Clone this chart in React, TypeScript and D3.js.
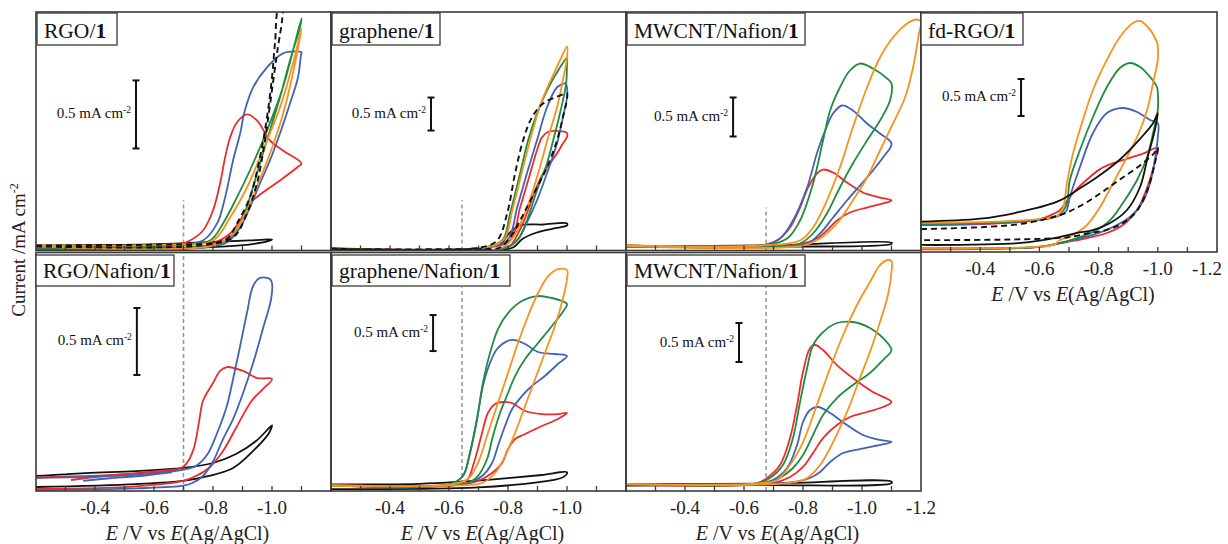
import React from "react";
import * as d3 from "d3";

type P = [number, number];

// ---------- RGO/1 ----------
const rgo1Black: P[] = [[-0.2,0.037],[-0.586,0.044],[-0.756,0.059],[-0.925,0.074],[-1.0,0.081],[-0.99,0.07],[-0.892,0.037],[-0.756,0.022],[-0.417,0.012],[-0.2,0.012]];
const rgo1Dashed: P[] = [[-0.2,0.037],[-0.654,0.044],[-0.8,0.055],[-0.85,0.09],[-0.881,0.199],[-0.925,0.39],[-0.959,0.684],[-0.983,0.978],[-1.0,1.272],[-1.01,1.522],[-1.024,1.8],[-1.037,1.8],[-1.034,1.69],[-1.02,1.493],[-1.003,1.228],[-0.986,0.956],[-0.969,0.713],[-0.949,0.493],[-0.915,0.272],[-0.868,0.096],[-0.756,0.037],[-0.2,0.03]];
const rgo1Red: P[] = [[-0.2,0.022],[-0.654,0.03],[-0.722,0.074],[-0.766,0.147],[-0.8,0.294],[-0.824,0.493],[-0.841,0.684],[-0.858,0.831],[-0.881,0.941],[-0.915,1.0],[-0.949,0.956],[-0.993,0.809],[-1.037,0.735],[-1.1,0.64],[-1.085,0.61],[-1.027,0.515],[-0.969,0.426],[-0.925,0.346],[-0.898,0.243],[-0.858,0.125],[-0.8,0.051],[-0.746,0.022],[-0.417,0.012],[-0.2,0.012]];
const rgo1Blue: P[] = [[-0.2,0.03],[-0.654,0.037],[-0.766,0.074],[-0.814,0.199],[-0.841,0.39],[-0.868,0.662],[-0.892,0.86],[-0.908,1.029],[-0.936,1.199],[-0.983,1.346],[-1.037,1.449],[-1.085,1.463],[-1.1,1.456],[-1.098,1.434],[-1.088,1.272],[-1.061,1.081],[-1.027,0.86],[-0.993,0.662],[-0.959,0.493],[-0.925,0.316],[-0.892,0.169],[-0.847,0.059],[-0.766,0.022],[-0.2,0.015]];
const rgo1Green: P[] = [[-0.2,0.03],[-0.654,0.037],[-0.79,0.074],[-0.834,0.199],[-0.881,0.39],[-0.925,0.588],[-0.983,0.882],[-1.037,1.199],[-1.1,1.706],[-1.095,1.64],[-1.061,1.397],[-1.027,1.125],[-0.993,0.882],[-0.959,0.64],[-0.925,0.39],[-0.892,0.199],[-0.847,0.074],[-0.756,0.03],[-0.2,0.022]];
const rgo1Orange: P[] = [[-0.2,0.037],[-0.654,0.044],[-0.8,0.074],[-0.858,0.243],[-0.915,0.463],[-0.969,0.735],[-1.027,1.051],[-1.071,1.375],[-1.1,1.632],[-1.095,1.566],[-1.068,1.272],[-1.034,0.978],[-0.993,0.713],[-0.953,0.493],[-0.915,0.294],[-0.868,0.125],[-0.8,0.037],[-0.2,0.03]];

// ---------- graphene/1 ----------
const gr1Black: P[] = [[-0.2,0.03],[-0.7,0.035],[-0.773,0.106],[-0.807,0.273],[-0.841,0.379],[-0.919,0.394],[-1.0,0.41],[-1.0,0.38],[-0.953,0.333],[-0.898,0.273],[-0.851,0.182],[-0.817,0.045],[-0.773,0.015],[-0.2,0.015]];
const gr1Dashed: P[] = [[-0.2,0.03],[-0.7,0.04],[-0.763,0.152],[-0.797,0.561],[-0.824,1.167],[-0.851,1.667],[-0.881,2.015],[-0.919,2.227],[-0.976,2.348],[-1.0,2.38],[-1.0,2.3],[-0.986,2.015],[-0.966,1.667],[-0.932,1.258],[-0.898,0.955],[-0.864,0.652],[-0.841,0.455],[-0.807,0.197],[-0.773,0.045],[-0.7,0.025],[-0.2,0.02]];
const gr1Red: P[] = [[-0.2,0.03],[-0.7,0.035],[-0.807,0.152],[-0.841,0.652],[-0.875,1.167],[-0.898,1.515],[-0.915,1.712],[-0.936,1.8],[-0.99,1.8],[-1.0,1.78],[-1.0,1.72],[-0.986,1.621],[-0.966,1.47],[-0.942,1.318],[-0.919,1.167],[-0.892,0.909],[-0.864,0.561],[-0.834,0.258],[-0.797,0.045],[-0.2,0.02]];
const gr1Blue: P[] = [[-0.2,0.03],[-0.7,0.035],[-0.797,0.152],[-0.831,0.652],[-0.864,1.167],[-0.898,1.667],[-0.932,2.167],[-0.966,2.47],[-0.995,2.53],[-1.0,2.47],[-1.0,2.318],[-0.986,2.015],[-0.966,1.621],[-0.932,1.167],[-0.898,0.758],[-0.864,0.424],[-0.831,0.152],[-0.783,0.03],[-0.2,0.02]];
const gr1Green: P[] = [[-0.2,0.03],[-0.7,0.035],[-0.78,0.152],[-0.807,0.561],[-0.841,1.167],[-0.868,1.667],[-0.898,2.076],[-0.932,2.424],[-0.976,2.773],[-1.0,2.92],[-1.0,2.85],[-0.997,2.53],[-0.976,2.076],[-0.953,1.667],[-0.932,1.318],[-0.898,0.909],[-0.864,0.455],[-0.831,0.152],[-0.783,0.03],[-0.2,0.02]];
const gr1Orange: P[] = [[-0.2,0.03],[-0.7,0.035],[-0.783,0.152],[-0.817,0.652],[-0.851,1.258],[-0.881,1.773],[-0.915,2.273],[-0.949,2.621],[-0.976,2.879],[-1.0,3.09],[-1.0,2.92],[-0.986,2.576],[-0.966,2.167],[-0.936,1.712],[-0.908,1.258],[-0.881,0.864],[-0.851,0.5],[-0.817,0.197],[-0.773,0.03],[-0.2,0.02]];

// ---------- MWCNT/Nafion/1 (top) ----------
const mw1Black: P[] = [[-0.2,0.06],[-0.68,0.065],[-1.1,0.1],[-1.1,0.085],[-0.68,0.05],[-0.2,0.05]];
const mw1Red: P[] = [[-0.2,0.064],[-0.66,0.064],[-0.712,0.128],[-0.756,0.295],[-0.79,0.551],[-0.817,0.808],[-0.847,0.987],[-0.868,1.038],[-0.902,1.0],[-0.949,0.872],[-1.003,0.744],[-1.061,0.679],[-1.1,0.641],[-1.071,0.603],[-1.017,0.551],[-0.959,0.487],[-0.915,0.385],[-0.881,0.256],[-0.847,0.154],[-0.8,0.09],[-0.746,0.064],[-0.2,0.055]];
const mw1Blue: P[] = [[-0.2,0.064],[-0.66,0.064],[-0.722,0.154],[-0.766,0.385],[-0.814,0.808],[-0.847,1.244],[-0.875,1.538],[-0.902,1.756],[-0.932,1.859],[-0.969,1.795],[-1.017,1.628],[-1.061,1.5],[-1.1,1.372],[-1.071,1.192],[-1.037,1.026],[-0.993,0.833],[-0.949,0.641],[-0.902,0.423],[-0.858,0.218],[-0.814,0.09],[-0.756,0.064],[-0.2,0.055]];
const mw1Green: P[] = [[-0.2,0.064],[-0.66,0.064],[-0.746,0.154],[-0.79,0.385],[-0.834,0.859],[-0.868,1.41],[-0.892,1.795],[-0.925,2.09],[-0.959,2.308],[-0.993,2.397],[-1.037,2.333],[-1.085,2.205],[-1.1,2.141],[-1.095,1.923],[-1.061,1.667],[-1.017,1.41],[-0.969,1.115],[-0.925,0.808],[-0.881,0.474],[-0.834,0.218],[-0.79,0.09],[-0.746,0.055],[-0.2,0.05]];
const mw1Orange: P[] = [[-0.2,0.064],[-0.66,0.064],[-0.79,0.128],[-0.834,0.295],[-0.881,0.641],[-0.925,1.064],[-0.969,1.577],[-1.017,2.09],[-1.061,2.474],[-1.105,2.731],[-1.153,2.91],[-1.186,2.962],[-1.2,2.936],[-1.193,2.782],[-1.173,2.346],[-1.146,1.962],[-1.105,1.628],[-1.061,1.282],[-1.017,0.936],[-0.969,0.641],[-0.915,0.346],[-0.858,0.154],[-0.8,0.064],[-0.2,0.055]];

// ---------- fd-RGO/1 ----------
const fdBlack: P[] = [[-0.2,0.41],[-0.4,0.45],[-0.52,0.53],[-0.66,0.68],[-0.737,0.86],[-0.805,1.04],[-0.872,1.25],[-0.94,1.53],[-0.984,1.74],[-1.0,1.878],[-0.99,1.649],[-0.966,1.284],[-0.94,0.878],[-0.896,0.568],[-0.839,0.392],[-0.781,0.297],[-0.727,0.257],[-0.67,0.203],[-0.538,0.122],[-0.2,0.095]];
const fdDashed: P[] = [[-0.2,0.31],[-0.52,0.37],[-0.67,0.5],[-0.737,0.62],[-0.805,0.79],[-0.872,0.98],[-0.94,1.17],[-0.984,1.32],[-1.0,1.405],[-0.99,1.2],[-0.966,0.85],[-0.93,0.56],[-0.882,0.39],[-0.828,0.3],[-0.761,0.25],[-0.697,0.2],[-0.52,0.17],[-0.2,0.16]];
const fdRed: P[] = [[-0.2,0.365],[-0.45,0.385],[-0.6,0.44],[-0.65,0.52],[-0.67,0.57],[-0.714,0.8],[-0.761,0.98],[-0.805,1.12],[-0.849,1.2],[-0.896,1.26],[-0.95,1.33],[-1.0,1.41],[-0.997,1.338],[-0.98,1.068],[-0.957,0.797],[-0.93,0.568],[-0.882,0.365],[-0.828,0.257],[-0.761,0.189],[-0.693,0.135],[-0.6,0.07],[-0.2,0.035]];
const fdBlue: P[] = [[-0.2,0.37],[-0.45,0.39],[-0.6,0.43],[-0.66,0.48],[-0.69,0.55],[-0.703,0.743],[-0.737,1.149],[-0.781,1.608],[-0.828,1.878],[-0.882,1.946],[-0.93,1.892],[-0.974,1.784],[-1.0,1.743],[-1.0,1.554],[-0.99,1.243],[-0.974,0.932],[-0.947,0.662],[-0.906,0.473],[-0.849,0.338],[-0.781,0.23],[-0.714,0.162],[-0.67,0.122],[-0.6,0.07],[-0.2,0.045]];
const fdGreen: P[] = [[-0.2,0.38],[-0.45,0.4],[-0.6,0.44],[-0.66,0.49],[-0.69,0.62],[-0.703,0.973],[-0.737,1.378],[-0.781,1.824],[-0.828,2.23],[-0.872,2.486],[-0.906,2.554],[-0.94,2.5],[-0.974,2.365],[-0.997,2.23],[-1.0,2.149],[-1.0,1.919],[-0.984,1.608],[-0.964,1.284],[-0.93,0.973],[-0.882,0.662],[-0.839,0.432],[-0.781,0.27],[-0.727,0.189],[-0.67,0.122],[-0.6,0.07],[-0.2,0.05]];
const fdOrange: P[] = [[-0.2,0.392],[-0.45,0.41],[-0.6,0.445],[-0.66,0.49],[-0.68,0.6],[-0.693,0.93],[-0.714,1.338],[-0.747,1.784],[-0.781,2.189],[-0.828,2.595],[-0.872,2.905],[-0.916,3.095],[-0.939,3.122],[-0.966,3.041],[-0.997,2.838],[-1.0,2.77],[-1.0,2.595],[-0.984,2.284],[-0.964,1.919],[-0.93,1.554],[-0.896,1.284],[-0.849,0.932],[-0.805,0.608],[-0.761,0.365],[-0.714,0.23],[-0.67,0.162],[-0.649,0.1],[-0.538,0.06],[-0.2,0.045]];

// ---------- RGO/Nafion/1 ----------
const rgoNBlack: P[] = [[-0.2,0.112],[-0.369,0.134],[-0.539,0.149],[-0.698,0.172],[-0.8,0.209],[-0.878,0.276],[-0.946,0.373],[-0.99,0.47],[-1.0,0.49],[-0.99,0.433],[-0.936,0.299],[-0.868,0.172],[-0.786,0.112],[-0.698,0.075],[-0.539,0.052],[-0.2,0.03]];
const rgoNRed: P[] = [[-0.2,0.104],[-0.54,0.13],[-0.698,0.18],[-0.732,0.299],[-0.753,0.522],[-0.766,0.672],[-0.8,0.806],[-0.824,0.896],[-0.847,0.925],[-0.902,0.896],[-0.949,0.843],[-1.0,0.836],[-0.969,0.761],[-0.93,0.67],[-0.878,0.47],[-0.834,0.299],[-0.786,0.172],[-0.742,0.112],[-0.698,0.075],[-0.54,0.035],[-0.2,0.015]];
const rgoNRedTail: P[] = [[-0.319,0.082],[-0.427,0.112],[-0.539,0.134],[-0.685,0.164]];
const rgoNBlue: P[] = [[-0.2,0.097],[-0.54,0.12],[-0.7,0.16],[-0.742,0.187],[-0.78,0.27],[-0.814,0.433],[-0.847,0.634],[-0.868,0.836],[-0.892,1.082],[-0.915,1.328],[-0.936,1.53],[-0.959,1.59],[-0.993,1.582],[-1.0,1.55],[-0.997,1.433],[-0.969,1.209],[-0.936,0.955],[-0.902,0.731],[-0.868,0.537],[-0.834,0.388],[-0.8,0.22],[-0.766,0.112],[-0.73,0.06],[-0.7,0.04],[-0.54,0.02],[-0.2,0.008]];
const rgoNBlueTail: P[] = [[-0.36,0.075],[-0.45,0.095],[-0.54,0.11],[-0.66,0.14]];

// ---------- graphene/Nafion/1 ----------
const grNBlack: P[] = [[-0.2,0.09],[-0.5,0.1],[-0.64,0.13],[-0.8,0.18],[-0.915,0.222],[-1.0,0.26],[-0.99,0.2],[-0.95,0.15],[-0.858,0.1],[-0.7,0.05],[-0.5,0.03],[-0.2,0.025]];
const grNRed: P[] = [[-0.2,0.08],[-0.6,0.09],[-0.66,0.15],[-0.685,0.4],[-0.712,0.806],[-0.732,1.083],[-0.756,1.208],[-0.78,1.236],[-0.814,1.222],[-0.858,1.111],[-0.915,1.069],[-0.969,1.069],[-1.0,1.083],[-0.969,1.0],[-0.915,0.903],[-0.858,0.792],[-0.824,0.722],[-0.8,0.583],[-0.78,0.389],[-0.746,0.25],[-0.698,0.139],[-0.654,0.097],[-0.6,0.075],[-0.2,0.07]];
const grNBlue: P[] = [[-0.2,0.08],[-0.6,0.09],[-0.647,0.208],[-0.671,0.528],[-0.695,1.0],[-0.715,1.458],[-0.739,1.778],[-0.763,1.972],[-0.797,2.083],[-0.824,2.097],[-0.858,2.042],[-0.902,1.931],[-0.959,1.903],[-1.0,1.875],[-0.969,1.764],[-0.925,1.597],[-0.881,1.458],[-0.847,1.319],[-0.814,1.139],[-0.79,0.903],[-0.766,0.625],[-0.746,0.389],[-0.712,0.208],[-0.664,0.111],[-0.6,0.075],[-0.2,0.07]];
const grNGreen: P[] = [[-0.2,0.08],[-0.6,0.09],[-0.647,0.208],[-0.671,0.528],[-0.695,1.0],[-0.715,1.5],[-0.739,1.917],[-0.766,2.25],[-0.8,2.472],[-0.847,2.639],[-0.902,2.708],[-0.949,2.681],[-0.983,2.639],[-1.0,2.597],[-0.983,2.472],[-0.949,2.292],[-0.902,2.056],[-0.858,1.833],[-0.824,1.597],[-0.8,1.361],[-0.773,1.083],[-0.749,0.764],[-0.729,0.444],[-0.698,0.208],[-0.664,0.111],[-0.6,0.075],[-0.2,0.07]];
const grNOrange: P[] = [[-0.2,0.08],[-0.6,0.09],[-0.664,0.167],[-0.698,0.389],[-0.732,0.806],[-0.766,1.222],[-0.8,1.639],[-0.834,2.056],[-0.868,2.431],[-0.902,2.75],[-0.936,2.986],[-0.969,3.083],[-1.0,3.07],[-1.0,2.944],[-0.986,2.667],[-0.959,2.292],[-0.925,1.917],[-0.892,1.556],[-0.858,1.181],[-0.824,0.806],[-0.79,0.486],[-0.756,0.25],[-0.712,0.111],[-0.6,0.075],[-0.2,0.07]];

// ---------- MWCNT/Nafion/1 (bottom) ----------
const mwNBlack: P[] = [[-0.2,0.09],[-0.68,0.095],[-1.1,0.12],[-1.1,0.1],[-0.68,0.075],[-0.2,0.07]];
const mwNRed: P[] = [[-0.2,0.09],[-0.64,0.095],[-0.678,0.167],[-0.722,0.333],[-0.756,0.679],[-0.78,1.103],[-0.8,1.526],[-0.824,1.833],[-0.841,1.872],[-0.868,1.808],[-0.915,1.615],[-0.969,1.449],[-1.037,1.269],[-1.1,1.141],[-1.071,1.077],[-1.017,1.013],[-0.959,0.949],[-0.915,0.846],[-0.868,0.679],[-0.834,0.487],[-0.8,0.308],[-0.756,0.179],[-0.712,0.115],[-0.64,0.09],[-0.2,0.085]];
const mwNBlue: P[] = [[-0.2,0.09],[-0.64,0.095],[-0.698,0.141],[-0.746,0.295],[-0.78,0.59],[-0.8,0.885],[-0.824,1.038],[-0.851,1.077],[-0.892,1.0],[-0.949,0.846],[-1.003,0.718],[-1.061,0.654],[-1.1,0.628],[-1.061,0.59],[-0.993,0.538],[-0.936,0.487],[-0.892,0.372],[-0.858,0.244],[-0.824,0.167],[-0.766,0.115],[-0.2,0.085]];
const mwNGreen: P[] = [[-0.2,0.09],[-0.64,0.095],[-0.688,0.167],[-0.732,0.333],[-0.766,0.679],[-0.79,1.141],[-0.814,1.577],[-0.834,1.872],[-0.868,2.038],[-0.915,2.154],[-0.969,2.167],[-1.027,2.09],[-1.071,1.962],[-1.1,1.808],[-1.071,1.679],[-1.027,1.513],[-0.969,1.359],[-0.915,1.192],[-0.868,0.974],[-0.834,0.718],[-0.8,0.462],[-0.766,0.295],[-0.722,0.167],[-0.678,0.103],[-0.2,0.085]];
const mwNOrange: P[] = [[-0.2,0.09],[-0.64,0.095],[-0.712,0.141],[-0.756,0.333],[-0.8,0.628],[-0.847,1.103],[-0.892,1.577],[-0.936,2.0],[-0.983,2.385],[-1.027,2.679],[-1.061,2.897],[-1.088,2.962],[-1.1,2.949],[-1.1,2.808],[-1.088,2.513],[-1.061,2.167],[-1.027,1.782],[-0.993,1.449],[-0.959,1.103],[-0.925,0.808],[-0.892,0.551],[-0.858,0.333],[-0.814,0.167],[-0.756,0.103],[-0.2,0.085]];

const tickLabels4 = [-0.4, -0.6, -0.8, -1.0];
const tickLabels5 = [-0.4, -0.6, -0.8, -1.0, -1.2];
const minorTicks = [-0.3, -0.4, -0.5, -0.6, -0.7, -0.8, -0.9, -1.0, -1.1];

const RED = "#ee2b2b";
const BLUE = "#4262b4";
const GREEN = "#1f8c3f";
const ORANGE = "#f7921e";
const BLACK = "#111";

type Curve = { d: P[]; c: string; dash?: boolean };
type Panel = {
  key: string; name: string; x0: number; x1: number; yTop: number; yBot: number;
  iMax: number; bar: [number, number]; barE: number; refE?: number; refTop?: number;
  boxW: number; boxX: number; ticks: number[]; title: boolean; curves: Curve[];
};

const FONT = "'Liberation Serif','Times New Roman',serif";

const panels: Panel[] = [
  { key: "p1", name: "RGO/", x0: 36, x1: 331, yTop: 12, yBot: 250.5, iMax: 1.753, bar: [0.75, 1.25], barE: -0.539, refE: -0.7, refTop: 0.37, boxW: 80, boxX: 1, ticks: [], title: false,
    curves: [{ d: rgo1Black, c: BLACK }, { d: rgo1Red, c: RED }, { d: rgo1Blue, c: BLUE }, { d: rgo1Green, c: GREEN }, { d: rgo1Orange, c: ORANGE }, { d: rgo1Dashed, c: BLACK, dash: true }] },
  { key: "p2", name: "graphene/", x0: 331, x1: 626, yTop: 12, yBot: 250.5, iMax: 3.614, bar: [1.818, 2.318], barE: -0.539, refE: -0.644, refTop: 0.76, boxW: 108, boxX: 1, ticks: [], title: false,
    curves: [{ d: gr1Black, c: BLACK }, { d: gr1Red, c: RED }, { d: gr1Blue, c: BLUE }, { d: gr1Green, c: GREEN }, { d: gr1Orange, c: ORANGE }, { d: gr1Dashed, c: BLACK, dash: true }] },
  { key: "p3", name: "MWCNT/Nafion/", x0: 626, x1: 921, yTop: 12, yBot: 250.5, iMax: 3.058, bar: [1.462, 1.962], barE: -0.563, refE: -0.675, refTop: 0.55, boxW: 178, boxX: 1, ticks: [], title: false,
    curves: [{ d: mw1Black, c: BLACK }, { d: mw1Red, c: RED }, { d: mw1Blue, c: BLUE }, { d: mw1Green, c: GREEN }, { d: mw1Orange, c: ORANGE }] },
  { key: "p4", name: "fd-RGO/", x0: 921, x1: 1217, yTop: 12, yBot: 252, iMax: 3.243, bar: [1.838, 2.338], barE: -0.538, boxW: 102, boxX: 0, ticks: tickLabels5, title: true,
    curves: [{ d: fdRed, c: RED }, { d: fdBlue, c: BLUE }, { d: fdGreen, c: GREEN }, { d: fdOrange, c: ORANGE }, { d: fdBlack, c: BLACK }, { d: fdDashed, c: BLACK, dash: true }] },
  { key: "p5", name: "RGO/Nafion/", x0: 36, x1: 331, yTop: 252.5, yBot: 491, iMax: 1.78, bar: [0.866, 1.366], barE: -0.542, refE: -0.7, refTop: 1.78, boxW: 138, boxX: 0, ticks: tickLabels4, title: true,
    curves: [{ d: rgoNBlack, c: BLACK }, { d: rgoNRed, c: RED }, { d: rgoNRedTail, c: RED }, { d: rgoNBlue, c: BLUE }, { d: rgoNBlueTail, c: BLUE }] },
  { key: "p6", name: "graphene/Nafion/", x0: 331, x1: 626, yTop: 252.5, yBot: 491, iMax: 3.313, bar: [1.944, 2.444], barE: -0.546, refE: -0.644, refTop: 2.83, boxW: 178, boxX: 1, ticks: tickLabels4, title: true,
    curves: [{ d: grNBlack, c: BLACK }, { d: grNRed, c: RED }, { d: grNBlue, c: BLUE }, { d: grNGreen, c: GREEN }, { d: grNOrange, c: ORANGE }] },
  { key: "p7", name: "MWCNT/Nafion/", x0: 626, x1: 921, yTop: 252.5, yBot: 491, iMax: 3.058, bar: [1.654, 2.154], barE: -0.583, refE: -0.675, refTop: 2.64, boxW: 178, boxX: 1, ticks: tickLabels5, title: true,
    curves: [{ d: mwNBlack, c: BLACK }, { d: mwNRed, c: RED }, { d: mwNBlue, c: BLUE }, { d: mwNGreen, c: GREEN }, { d: mwNOrange, c: ORANGE }] },
];

function PanelView({ p }: { p: Panel }) {
  const x = d3.scaleLinear().domain([-0.2, -1.2]).range([p.x0, p.x1]);
  const y = d3.scaleLinear().domain([0, p.iMax]).range([p.yBot, p.yTop]);
  const line = d3.line<P>().x((d) => x(d[0])).y((d) => y(d[1])).curve(d3.curveCatmullRom.alpha(0.5));
  const top = p.yTop < 100;
  const boxY = top ? 13 : 255;
  const boxH = top ? 32 : 31;
  const textY = top ? 38 : 278;
  const bx = x(p.barE);
  const b0 = y(p.bar[0]);
  const b1 = y(p.bar[1]);
  return (
    <g>
      <defs>
        <clipPath id={"clip-" + p.key}>
          <rect x={p.x0} y={p.yTop} width={p.x1 - p.x0} height={p.yBot - p.yTop} />
        </clipPath>
      </defs>
      {p.refE !== undefined && (
        <line x1={x(p.refE)} x2={x(p.refE)} y1={y(0)} y2={y(p.refTop!)} stroke="#999" strokeWidth={1.6} strokeDasharray="4,3" />
      )}
      <g clipPath={`url(#clip-${p.key})`}>
        {p.curves.map((c, i) => (
          <path key={i} d={line(c.d) || ""} fill="none" stroke={c.c} strokeWidth={c.dash ? 1.9 : 1.8}
            strokeDasharray={c.dash ? "6,4" : undefined} strokeLinejoin="round" />
        ))}
      </g>
      <rect x={p.x0} y={p.yTop} width={p.x1 - p.x0} height={p.yBot - p.yTop} fill="none" stroke="#3a3a3a" strokeWidth={1.6} />
      {minorTicks.map((t) => (
        <line key={t} x1={x(t)} x2={x(t)} y1={p.yBot} y2={p.yBot - 5} stroke="#3a3a3a" strokeWidth={1.3} />
      ))}
      {p.ticks.map((t) => (
        <text key={t} x={Math.min(x(t), 1207)} y={p.yBot + 23} textAnchor="middle" fontFamily={FONT} fontSize={19} fill="#222">
          {t.toFixed(1)}
        </text>
      ))}
      {p.title && (
        <text x={(p.x0 + p.x1) / 2 + 4} y={p.yBot + 49} textAnchor="middle" fontFamily={FONT} fontSize={20} fill="#222">
          <tspan fontStyle="italic">E</tspan> /V vs <tspan fontStyle="italic">E</tspan>(Ag/AgCl)
        </text>
      )}
      <rect x={p.x0 + p.boxX} y={boxY} width={p.boxW} height={boxH} fill="#fff" stroke="#3a3a3a" strokeWidth={1.3} />
      <text x={p.x0 + p.boxX + 7} y={textY} fontFamily={FONT} fontSize={21.5} fill="#111">
        {p.name}<tspan fontWeight="bold">1</tspan>
      </text>
      <line x1={bx} x2={bx} y1={b0} y2={b1} stroke="#111" strokeWidth={2} />
      <line x1={bx - 3.5} x2={bx + 3.5} y1={b0} y2={b0} stroke="#111" strokeWidth={2} />
      <line x1={bx - 3.5} x2={bx + 3.5} y1={b1} y2={b1} stroke="#111" strokeWidth={2} />
      <text x={bx - 5} y={(b0 + b1) / 2 + 4} textAnchor="end" fontFamily={FONT} fontSize={15} fill="#111">
        0.5 mA cm<tspan fontSize={9.5} dy={-5}>-2</tspan>
      </text>
    </g>
  );
}

export default function App() {
  return (
    <svg width={1228} height={544} style={{ display: "block", position: "absolute", left: 0, top: 0, background: "#fff" }}>
      <rect x={0} y={0} width={1228} height={544} fill="#fff" />
      {panels.map((p) => (
        <PanelView key={p.key} p={p} />
      ))}
      <text transform="translate(25,250) rotate(-90)" textAnchor="middle" fontFamily={FONT} fontSize={19} fill="#222">
        Current /mA cm<tspan fontSize={12} dy={-7}>-2</tspan>
      </text>
    </svg>
  );
}
